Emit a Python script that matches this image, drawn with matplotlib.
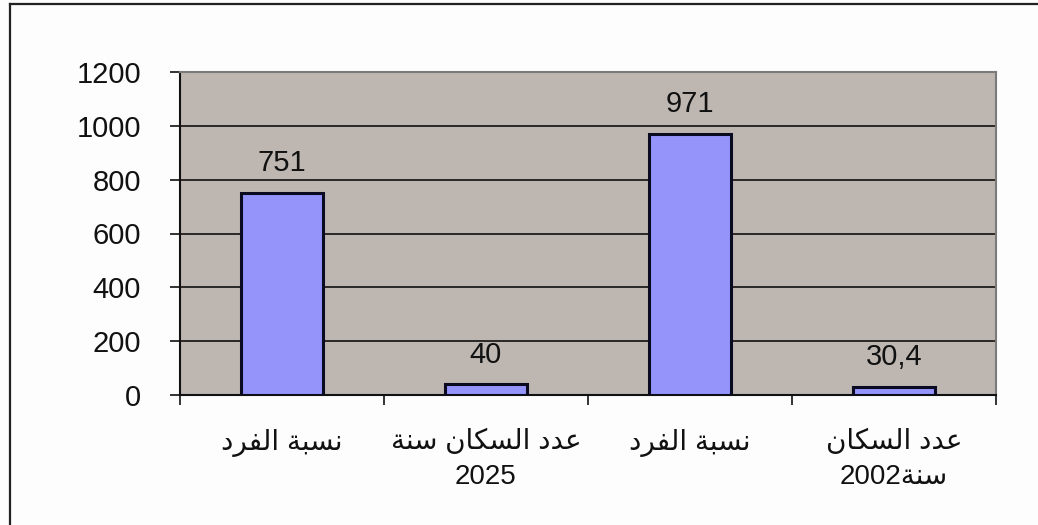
import numpy as np
import matplotlib
matplotlib.use('Agg')
import matplotlib.pyplot as plt
from matplotlib.lines import Line2D

# Data
categories = ['نسبة الفرد', 'عدد السكان سنة\n2025', 'نسبة الفرد', 'عدد السكان\nسنة2002']
values = [751, 40, 971, 30.4]
value_labels = ['751', '40', '971', '30,4']
y_ticks = [0, 200, 400, 600, 800, 1000, 1200]

# Arabic letters used here -> (isolated form, joins to next letter)
AR_FORMS = {
    'ا': (0xFE8D, False), 'ب': (0xFE8F, True), 'ة': (0xFE93, False),
    'د': (0xFEA9, False), 'ر': (0xFEAD, False), 'س': (0xFEB1, True),
    'ع': (0xFEC9, True), 'ف': (0xFED1, True), 'ك': (0xFED9, True),
    'ل': (0xFEDD, True), 'ن': (0xFEE5, True),
}


def shape_run(run):
    """ Picks contextual presentation forms for an Arabic run, returns it in visual order """
    out = []
    for i, ch in enumerate(run):
        if ch not in AR_FORMS:
            out.append(ch)
            continue
        base, dual = AR_FORMS[ch]
        prev = run[i - 1] if i > 0 else ''
        nxt = run[i + 1] if i + 1 < len(run) else ''
        join_prev = prev in AR_FORMS and AR_FORMS[prev][1]
        join_next = dual and nxt in AR_FORMS
        if join_prev and join_next:
            code = base + 3
        elif join_prev:
            code = base + 1
        elif join_next:
            code = base + 2
        else:
            code = base
        out.append(chr(code))
    return ''.join(reversed(out))


def bidi_line(line):
    """ Splits a line into Arabic and digit runs and lays them out right to left """
    runs = []
    cur, cur_ar = '', None
    for ch in line:
        is_ar = not ch.isdigit()
        if cur_ar is None or is_ar == cur_ar:
            cur += ch
        else:
            runs.append((cur, cur_ar))
            cur = ch
        cur_ar = is_ar
    if cur:
        runs.append((cur, cur_ar))
    parts = [shape_run(r) if ar else r for r, ar in runs]
    return ''.join(reversed(parts))


def bidi(text):
    return '\n'.join(bidi_line(l) for l in text.split('\n'))


plt.rcParams['font.family'] = ['Liberation Sans', 'DejaVu Sans']

fig = plt.figure(figsize=(10.38, 5.25), dpi=100)
W, H = 1038, 525
left, right, top, bottom = 180, 996, 72, 395
ax = fig.add_axes([left / W, 1 - bottom / H, (right - left) / W, (bottom - top) / H])
ax.set_facecolor('#bdb6b1')

x = np.arange(len(values))
ax.bar(x, values, width=0.4, color='#9494fb', edgecolor='#0a0a20', linewidth=2.2, zorder=3)
for xi, v, lab in zip(x, values, value_labels):
    ax.text(xi, v + 58, lab, ha='center', va='bottom', fontsize=21, color='#111111', zorder=4)

ax.set_xlim(-0.5, len(values) - 0.5)
ax.set_ylim(0, 1200)
ax.set_yticks(y_ticks)
ax.tick_params(axis='y', labelsize=21, length=7, width=1.2, pad=21, colors='#111111')
ax.yaxis.grid(True, color='#111111', linewidth=1.2, zorder=1)
ax.set_axisbelow(True)

# category ticks sit on the boundaries, labels centred on the bars
ax.set_xticks(np.arange(len(values) + 1) - 0.5)
ax.set_xticklabels([])
ax.tick_params(axis='x', length=7, width=1.2, colors='#111111')
for xi, cat in zip(x, categories):
    ax.text(xi, -0.105, bidi(cat), transform=ax.get_xaxis_transform(), ha='center', va='top',
            fontsize=20, linespacing=1.42, color='#111111')

ax.spines['left'].set_linewidth(1.5)
ax.spines['bottom'].set_linewidth(1.5)
ax.spines['left'].set_color('#111111')
ax.spines['bottom'].set_color('#111111')
for s in ('top', 'right'):
    ax.spines[s].set_color('#7a7a7a')
    ax.spines[s].set_linewidth(1.5)

# outer chart border (left and top only)
fig.add_artist(Line2D([9.5 / W, 9.5 / W], [0, 1 - 4 / H], transform=fig.transFigure, color='#222222', lw=1.6))
fig.add_artist(Line2D([9.5 / W, 1], [1 - 4 / H, 1 - 4 / H], transform=fig.transFigure, color='#222222', lw=1.6))

fig.savefig('out.png', dpi=100, facecolor='#fdfdfd')
